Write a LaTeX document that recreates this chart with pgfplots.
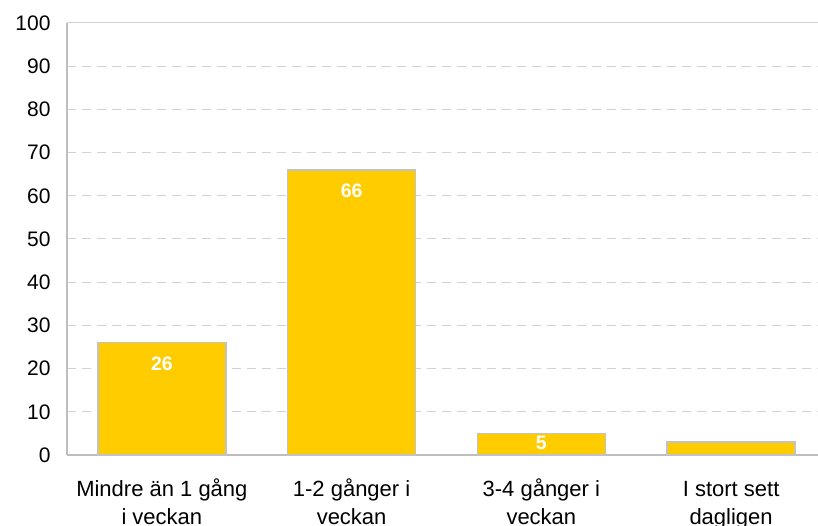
\documentclass[border=0pt]{standalone}
\usepackage{fontspec}
\setmainfont{Liberation Sans}
\usepackage{pgfplots}
\pgfplotsset{compat=1.18}

\definecolor{bargold}{RGB}{255,204,0}
\definecolor{baredge}{RGB}{195,195,195}
\definecolor{gridgrey}{RGB}{210,210,210}
\definecolor{axisgrey}{RGB}{190,190,190}

\begin{document}
\begin{tikzpicture}
\begin{axis}[
  at={(0pt,0pt)}, anchor=south west,
  scale only axis, width=751pt, height=432pt,
  xmin=-0.5, xmax=3.458, ymin=0, ymax=100,
  axis x line*=bottom, axis y line*=left,
  axis line style={draw=axisgrey, line width=1.2pt, -},
  xtick={0,1,2,3},
  xticklabels={{Mindre än 1 gång\\i veckan},{1-2 gånger i\\veckan},{3-4 gånger i\\veckan},{I stort sett\\dagligen}},
  ytick={0,10,...,100},
  major tick length=0pt,
  ymajorgrids,
  grid style={draw=gridgrey, line width=1pt, dash pattern=on 9pt off 6pt},
  y tick label style={font=\fontsize{21}{27}\selectfont, anchor=east, xshift=-13pt},
  x tick label style={font=\fontsize{22}{28}\selectfont, align=center, anchor=base, yshift=-70pt},
  /pgf/number format/assume math mode=true,
  clip=false,
]
% top border line at 100
\draw[gridgrey, line width=1pt] (axis cs:-0.5,100) -- (axis cs:3.458,100);

% bars
\addplot[ybar, bar width=0.674, bar shift=0pt, fill=bargold, draw=baredge, line width=1.5pt]
  coordinates {(0,26) (1,66) (2,5) (3,3)};

% value labels inside the taller bars
\addplot[draw=none, mark=none, forget plot, point meta=y,
  nodes near coords,
  nodes near coords style={anchor=center, yshift=-21pt, text=white,
    font=\fontsize{19.5}{22}\bfseries}]
  coordinates {(0,26) (1,66)};

% value label centred in the short bar
\addplot[draw=none, mark=none, forget plot, point meta=y,
  nodes near coords,
  nodes near coords style={anchor=center, yshift=-9.5pt, text=white,
    font=\fontsize{19.5}{22}\bfseries}]
  coordinates {(2,5)};
\end{axis}
\pgfresetboundingbox
\path (-67pt,-71pt) rectangle (751pt,455pt);
\end{tikzpicture}
\end{document}
